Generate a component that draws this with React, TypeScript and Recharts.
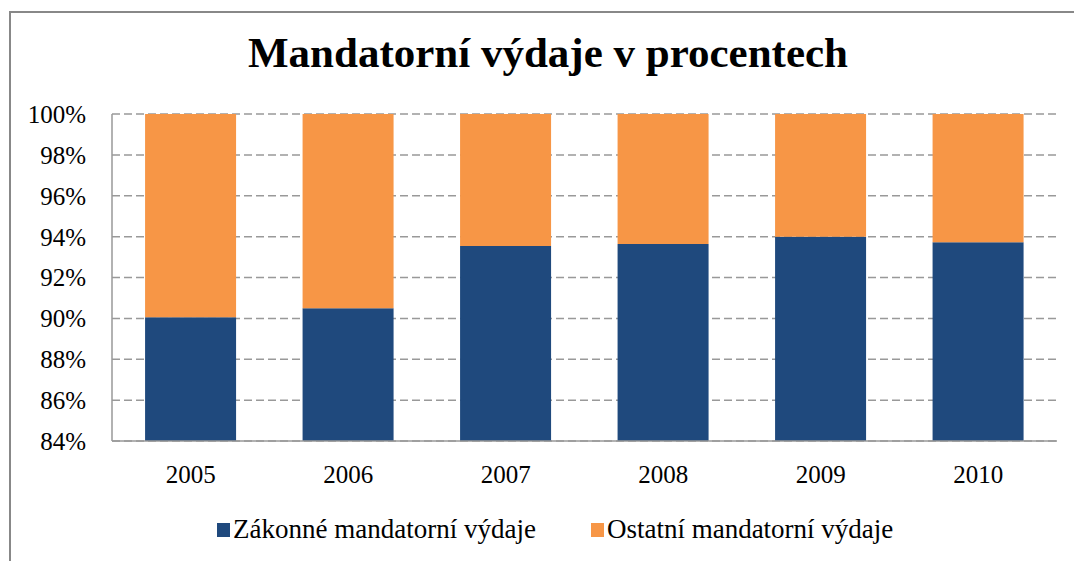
import { BarChart, Bar, XAxis, YAxis, CartesianGrid, Legend } from 'recharts';

const years = ['2005', '2006', '2007', '2008', '2009', '2010'];
const zakonne = [90.05, 90.5, 93.54, 93.64, 94.0, 93.72];
const ostatni = zakonne.map(v => +(100 - v).toFixed(2));
const yTicks = [84, 86, 88, 90, 92, 94, 96, 98, 100];

const BLUE = '#1F497D';
const ORANGE = '#F79646';
const FONT = '"Liberation Serif", "Times New Roman", serif';

const data = years.map((year, i) => ({
  year,
  zakonne: zakonne[i],
  ostatni: ostatni[i],
}));

const legendItems = [
  { name: 'Zákonné mandatorní výdaje', color: BLUE },
  { name: 'Ostatní mandatorní výdaje', color: ORANGE },
];

const renderLegend = () => (
  <div style={{ position: 'relative', height: 50, fontFamily: FONT, fontSize: 27, color: '#000' }}>
    <div style={{ position: 'absolute', left: 217, top: 3, display: 'flex', alignItems: 'center', whiteSpace: 'nowrap' }}>
      {legendItems.map((item, i) => (
        <div key={item.name} style={{ display: 'flex', alignItems: 'center', marginRight: i === 0 ? 55 : 0 }}>
          <div style={{ width: 13, height: 14, backgroundColor: item.color, marginRight: 3, marginTop: 2 }} />
          <span style={{ lineHeight: '30px' }}>{item.name}</span>
        </div>
      ))}
    </div>
  </div>
);

export default function App() {
  return (
    <div style={{ position: 'absolute', left: 0, top: 0, width: 1074, height: 561, background: '#fff', overflow: 'hidden' }}>
      {/* rámeček grafu */}
      <div
        style={{
          position: 'absolute',
          left: 9,
          top: 11,
          width: 1100,
          height: 600,
          border: '2px solid #888',
          boxSizing: 'border-box',
        }}
      />
      <div
        style={{
          position: 'absolute',
          left: 0,
          width: 1074,
          top: 28,
          textAlign: 'center',
          fontFamily: FONT,
          fontWeight: 'bold',
          fontSize: 43,
          lineHeight: '50px',
          color: '#000',
          paddingLeft: 22,
          boxSizing: 'border-box',
        }}
      >
        Mandatorní výdaje v procentech
      </div>
      <BarChart
        width={1074}
        height={561}
        data={data}
        margin={{ top: 114, right: 17, bottom: 0, left: 0 }}
        barCategoryGap="21%"
        style={{ position: 'absolute', left: 0, top: 0 }}
      >
        <CartesianGrid vertical={false} stroke="#999" strokeDasharray="8 4" strokeWidth={1.5} />
        <XAxis
          dataKey="year"
          height={70}
          tickLine={false}
          tickSize={0}
          tickMargin={24}
          axisLine={{ stroke: '#999', strokeWidth: 1.5 }}
          tick={{ fill: '#000', fontSize: 25, fontFamily: FONT }}
        />
        <YAxis
          width={112}
          domain={[84, 100]}
          ticks={yTicks}
          allowDataOverflow
          interval={0}
          tickLine={false}
          tickSize={0}
          tickMargin={26}
          tickFormatter={(v: number) => `${v}%`}
          axisLine={{ stroke: '#999', strokeWidth: 1.5 }}
          tick={{ fill: '#000', fontSize: 25, fontFamily: FONT }}
        />
        <Legend verticalAlign="bottom" height={50} content={renderLegend} />
        <Bar dataKey="zakonne" name="Zákonné mandatorní výdaje" stackId="a" fill={BLUE} isAnimationActive={false} />
        <Bar dataKey="ostatni" name="Ostatní mandatorní výdaje" stackId="a" fill={ORANGE} isAnimationActive={false} />
      </BarChart>
    </div>
  );
}
